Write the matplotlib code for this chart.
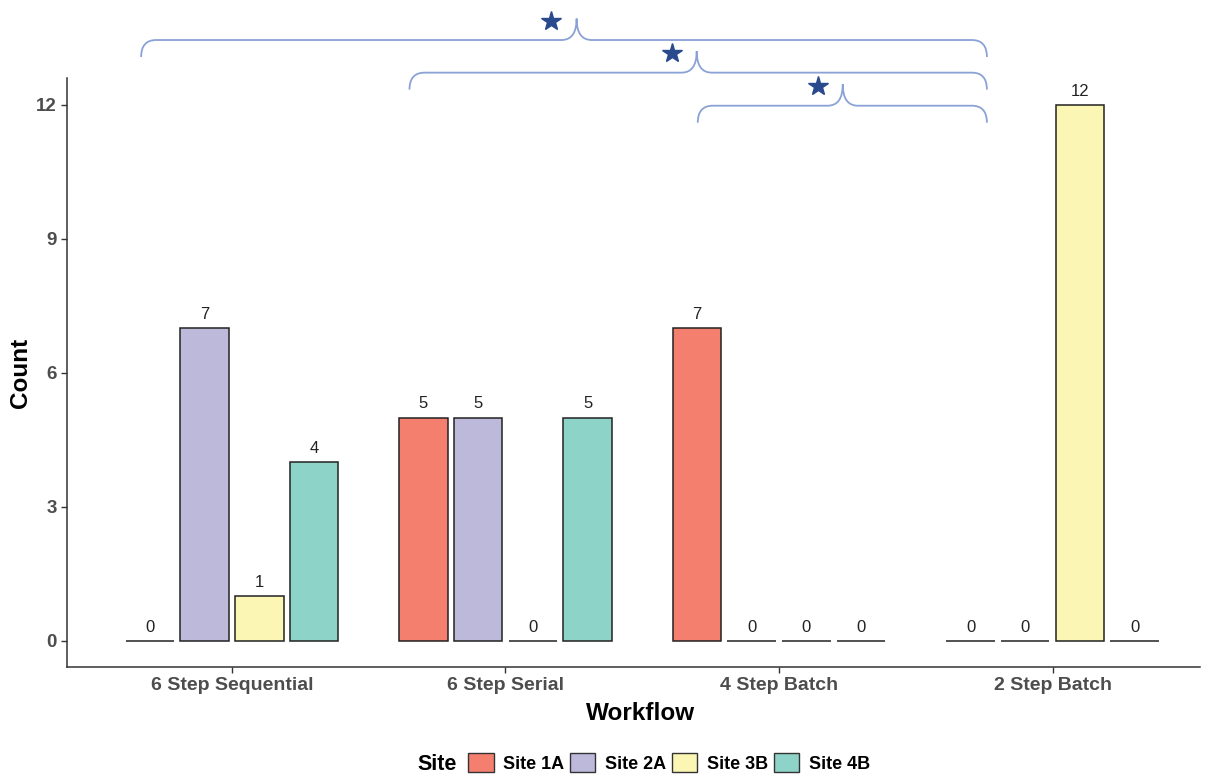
import numpy as np
import matplotlib
matplotlib.use("Agg")
import matplotlib.pyplot as plt
from matplotlib.patches import Patch, PathPatch
from matplotlib.path import Path

plt.rcParams['font.family'] = ['Liberation Sans', 'DejaVu Sans']

workflows = ['6 Step Sequential', '6 Step Serial', '4 Step Batch', '2 Step Batch']
sites = ['Site 1A', 'Site 2A', 'Site 3B', 'Site 4B']
site_1a = [0, 5, 7, 0]
site_2a = [7, 5, 0, 0]
site_3b = [1, 0, 0, 12]
site_4b = [4, 5, 0, 0]
colors = ['#F47F6E', '#BDB9DA', '#FBF6B3', '#8DD3C7']

# significance braces: (left x, right x, tip x) and horizontal level
braces = [(0.668, 3.760, 2.260),
          (1.649, 3.760, 2.699),
          (2.703, 3.760, 3.233)]
brace_y = [13.45, 12.72, 11.98]

fig = plt.figure(figsize=(12.12, 7.74), dpi=100)
ax = fig.add_axes([67/1212, 107/774, 1133/1212, 589/774])

x = np.arange(1, len(workflows) + 1)
series = [site_1a, site_2a, site_3b, site_4b]
offsets = [-0.3, -0.1, 0.1, 0.3]
for vals, off, c in zip(series, offsets, colors):
    ax.bar(x + off, vals, width=0.1775, color=c, edgecolor='#222222', linewidth=1.1, zorder=3)
    for xi, v in zip(x + off, vals):
        ax.text(xi, v + 0.14, str(v), ha='center', va='bottom', fontsize=12, color='#222222')

ax.set_xlim(0.397, 4.539)
ax.set_ylim(-0.582, 12.6)
ax.set_xticks(x)
ax.set_xticklabels(workflows)
ax.set_yticks([0, 3, 6, 9, 12])
ax.tick_params(axis='both', colors='#333333', labelcolor='#4D4D4D', length=4, width=1)
ax.tick_params(axis='x', labelsize=14)
ax.tick_params(axis='y', labelsize=13.5)
for lab in ax.get_xticklabels() + ax.get_yticklabels():
    lab.set_fontweight('bold')
for s in ['top', 'right']:
    ax.spines[s].set_visible(False)
for s in ['left', 'bottom']:
    ax.spines[s].set_color('#333333')
    ax.spines[s].set_linewidth(1.1)

ax.set_xlabel('Workflow', fontsize=17.5, fontweight='bold', va='center')
ax.set_ylabel('Count', fontsize=17.5, fontweight='bold', va='center', ha='center')
ax.xaxis.set_label_coords(0.5 + 7 / 1133, (774 - 714 - 107) / 589)
ax.yaxis.set_label_coords((21 - 67) / 1133, 0.5)

# curly braces
rx = 0.055
ry_end = 0.38
for (x0, x1, xm), yh in zip(braces, brace_y):
    ye = yh - ry_end
    yt = yh + 0.48
    verts = [(x0, ye), (x0, yh), (x0 + rx, yh),
             (xm - rx, yh),
             (xm, yh), (xm, yt),
             (xm, yh), (xm + rx, yh),
             (x1 - rx, yh),
             (x1, yh), (x1, ye)]
    codes = [Path.MOVETO, Path.CURVE3, Path.CURVE3,
             Path.LINETO,
             Path.CURVE3, Path.CURVE3,
             Path.CURVE3, Path.CURVE3,
             Path.LINETO,
             Path.CURVE3, Path.CURVE3]
    ax.add_patch(PathPatch(Path(verts, codes), facecolor='none', edgecolor='#8AA2D6',
                           linewidth=1.3, clip_on=False, zorder=4))
    ax.plot([xm - 0.092], [yt - 0.05], marker='*', markersize=15, color='#2A4A8E',
            clip_on=False, zorder=5, linestyle='none')

# legend
fig.text(417/1212, 1 - 764/774, 'Site', fontsize=15.5, fontweight='bold', va='center', ha='left')
handles = [Patch(facecolor=c, edgecolor='#333333', linewidth=1) for c in colors]
leg = fig.legend(handles, sites, ncol=4, loc='center left', bbox_to_anchor=(452/1212, 1 - 763/774),
                 frameon=False, handlelength=1.4, handleheight=1.2, handletextpad=0.55,
                 columnspacing=0.3, prop={'size': 13, 'weight': 'bold'})

fig.savefig('out.png', dpi=100)
